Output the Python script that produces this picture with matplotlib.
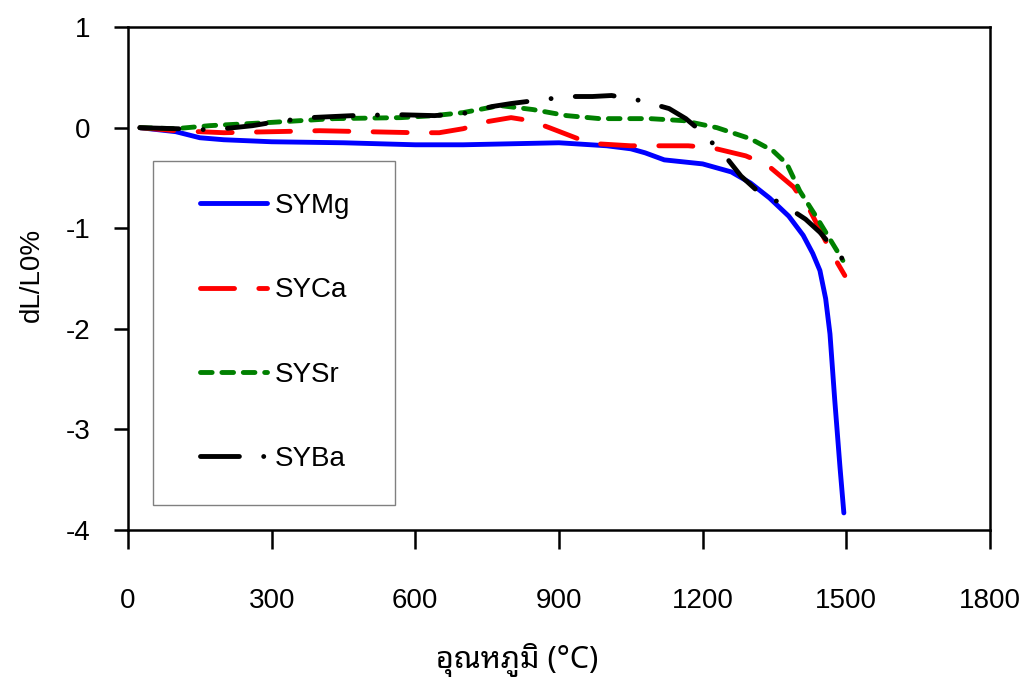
import matplotlib

matplotlib.use("Agg")
import matplotlib.pyplot as plt
from matplotlib import font_manager
from matplotlib.ft2font import FT2Font
from matplotlib.patches import Rectangle

# dL/L0 (%) vs temperature
mg_temp = [25, 100, 150, 200, 300, 450, 600, 700, 800, 900, 1000, 1050, 1080, 1120,
           1200, 1260, 1300, 1340, 1380, 1410, 1430, 1445, 1457, 1466, 1476, 1487, 1495]
mg_dl = [0, -0.04, -0.10, -0.12, -0.14, -0.15, -0.17, -0.17, -0.16, -0.15, -0.18, -0.21,
         -0.25, -0.32, -0.36, -0.44, -0.55, -0.70, -0.88, -1.07, -1.25, -1.42, -1.70,
         -2.05, -2.71, -3.38, -3.83]

ca_temp = [25, 100, 200, 300, 400, 500, 600, 650, 700, 750, 800, 840, 880, 940, 980,
           1050, 1170, 1220, 1290, 1335, 1390, 1425, 1470, 1497]
ca_dl = [0, -0.03, -0.05, -0.04, -0.03, -0.04, -0.05, -0.05, -0.01, 0.06, 0.10, 0.07,
         0.0, -0.11, -0.16, -0.18, -0.18, -0.20, -0.28, -0.37, -0.59, -0.83, -1.25, -1.47]

sr_temp = [25, 100, 170, 290, 430, 570, 640, 700, 777, 846, 916, 985, 1090, 1160, 1230,
           1300, 1347, 1376, 1403, 1438, 1493]
sr_dl = [0, -0.01, 0.02, 0.05, 0.09, 0.10, 0.12, 0.15, 0.22, 0.18, 0.12, 0.09, 0.09,
         0.07, 0.0, -0.11, -0.23, -0.36, -0.63, -0.89, -1.32]

ba_temp = [25, 100, 150, 200, 260, 310, 380, 470, 560, 640, 700, 760, 800, 850, 920,
           970, 1010, 1070, 1130, 1165, 1200, 1250, 1280, 1310, 1380, 1415, 1445, 1495]
ba_dl = [0, -0.01, -0.02, -0.01, 0.02, 0.06, 0.10, 0.12, 0.13, 0.12, 0.14, 0.21, 0.24,
         0.27, 0.31, 0.31, 0.32, 0.27, 0.19, 0.09, -0.05, -0.30, -0.48, -0.61, -0.80,
         -0.91, -1.04, -1.32]

x_ticks = [0, 300, 600, 900, 1200, 1500, 1800]
y_ticks = [1, 0, -1, -2, -3, -4]


def thai_family():
    found = set()
    for f in font_manager.fontManager.ttflist:
        try:
            if 0x0E2D in FT2Font(f.fname).get_charmap():
                found.add(f.name)
        except Exception:
            pass
    for name in ["Noto Sans Thai Looped", "Sarabun", "Noto Sans Thai", "Tahoma",
                 "Loma", "Garuda", "Anuphan", "Bai Jamjuree"]:
        if name in found:
            return name
    return sorted(found)[0] if found else "DejaVu Sans"


plt.rcParams["font.family"] = ["Liberation Sans", "DejaVu Sans"]
plt.rcParams["axes.unicode_minus"] = False

fig = plt.figure(figsize=(10.29, 6.95), dpi=100)
ax = fig.add_axes([0.1244, 0.2374, 0.8376, 0.7236])

lw = 3.5
ax.plot(mg_temp, mg_dl, color="#0000ff", lw=lw, solid_capstyle="round", label="SYMg")
ax.plot(ca_temp, ca_dl, color="#ff0000", lw=lw, dashes=(7, 5), dash_capstyle="round",
        label="SYCa")
ax.plot(sr_temp, sr_dl, color="#008000", lw=lw, dashes=(2.4, 2.0), dash_capstyle="round",
        label="SYSr")
ax.plot(ba_temp, ba_dl, color="black", lw=lw, dashes=(8, 5, 0.01, 5),
        dash_capstyle="round", label="SYBa")

ax.set_xlim(0, 1800)
ax.set_ylim(-4, 1)
ax.set_xticks(x_ticks)
ax.set_yticks(y_ticks)
ax.tick_params(axis="x", direction="out", length=14, width=1.8, pad=28, labelsize=20)
ax.tick_params(axis="y", direction="out", length=10, width=1.8, pad=17, labelsize=20)
for side in ax.spines.values():
    side.set_linewidth(1.8)

ax.set_xlabel("อุณหภูมิ (°C)", fontsize=22,
              family=[thai_family(), "Liberation Sans", "DejaVu Sans"])
ax.xaxis.set_label_coords(0.451, -0.225)
ax.set_ylabel("dL/L0%", fontsize=20)
ax.yaxis.set_label_coords(-0.096, 0.508)

ax.add_patch(Rectangle((0.029, 0.05), 0.281, 0.684, transform=ax.transAxes,
                       fill=False, edgecolor="#808080", lw=1.0, zorder=1))
ax.legend(loc="upper left", bbox_to_anchor=(0.0835, 0.67), frameon=False,
          borderpad=0, borderaxespad=0, fontsize=20, handlelength=2.4,
          handletextpad=0.3, labelspacing=2.1)

fig.savefig("out.png", dpi=100)
